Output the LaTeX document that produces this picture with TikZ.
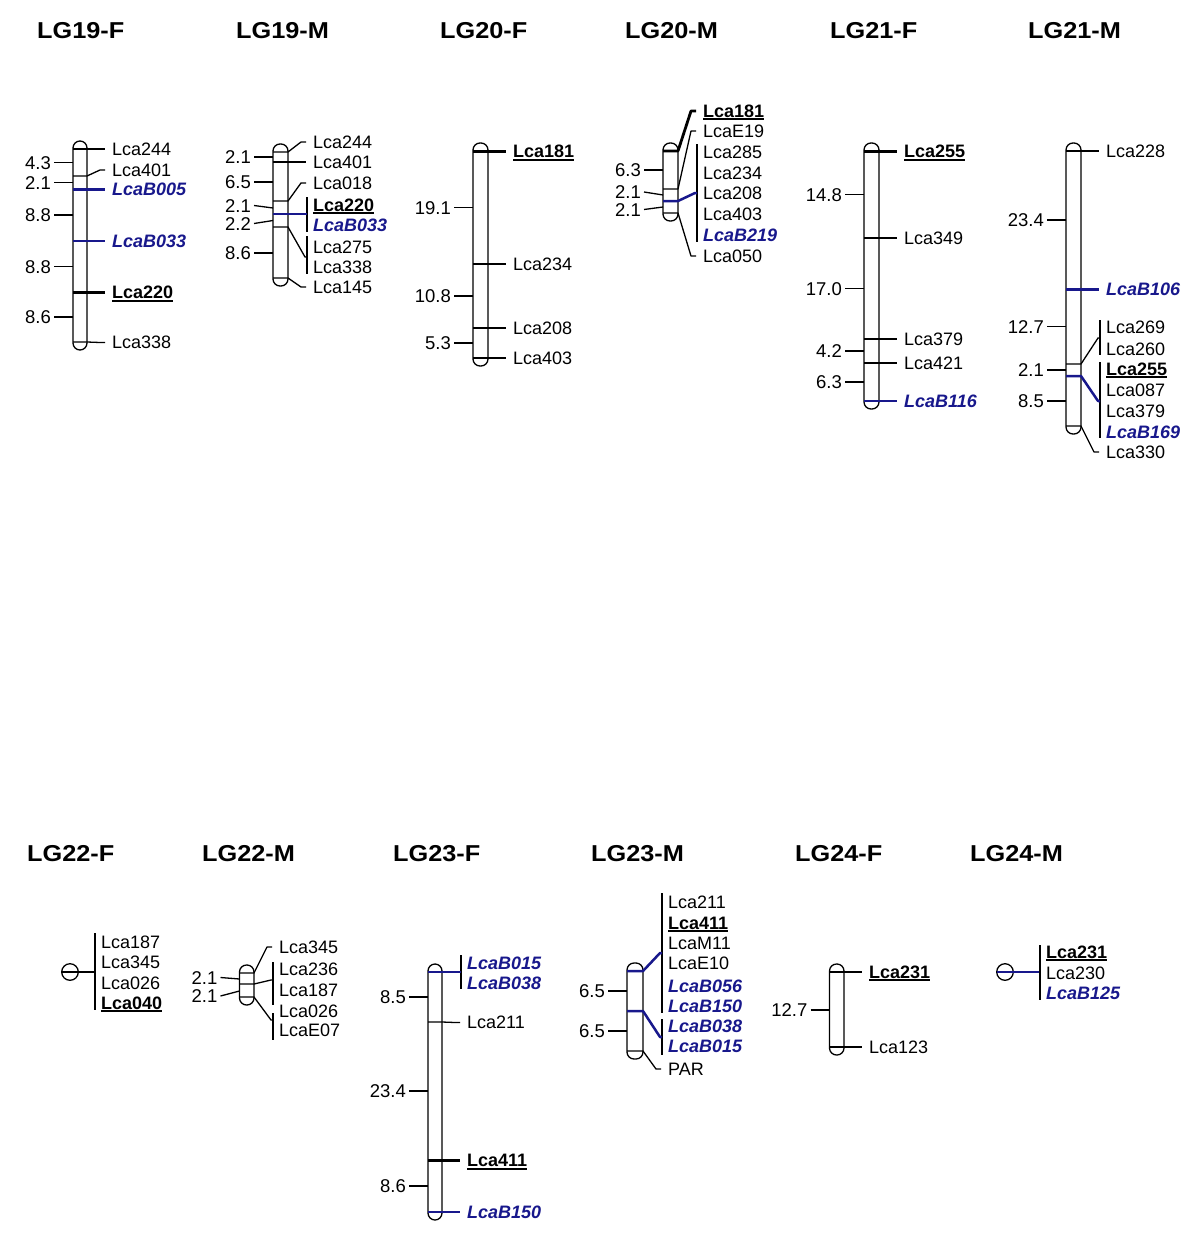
\documentclass[tikz,border=0pt]{standalone}
\usepackage{fontspec}
\setmainfont{Liberation Sans}
\newfontfamily\ttlfam[FakeStretch=1.1]{Liberation Sans}
\definecolor{mkblue}{RGB}{24,24,140}
\newsavebox\ulbox
\newcommand\myul[1]{\sbox\ulbox{#1}\rlap{\rule[-2.8pt]{\wd\ulbox}{1.8pt}}\usebox\ulbox}
\newcommand\fLab{\fontsize{18}{20}\selectfont}
\newcommand\fDist{\fontsize{18.5}{21}\selectfont}
\newcommand\fTtl{\ttlfam\bfseries\fontsize{23}{25}\selectfont}
\tikzset{
 chr/.style={draw=black, line width=1.3pt, fill=white, rounded corners=7pt},
 nmk/.style={draw=black, line width=1.3pt, line join=round},
 kmk/.style={draw=black, line width=2.8pt, line join=round},
 bmk/.style={draw=mkblue, line width=2.5pt, line join=round},
 lab/.style={anchor=west, inner sep=0pt, font=\fLab, text height=12.9pt, text depth=0pt},
 labb/.style={lab, font=\fLab\bfseries},
 labc/.style={lab, font=\fLab\bfseries\itshape, text=mkblue},
 dist/.style={anchor=east, inner sep=0pt, font=\fDist, text height=13.2pt, text depth=0pt},
 ttl/.style={anchor=west, inner sep=0pt, font=\fTtl, text height=16.5pt, text depth=0pt},
}
% single marker: #1 line style, #2 xl, #3 xr, #4 marker y, #5 label y, #6 label style, #7 name, #8 text
\newcommand\single[8]{%
 \node[#6] (#7) at (#3+25,#5) {#8};
 \draw[#1] (#2,#4) -- (#3,#4) -- (#3+13,#5) -- ([xshift=-7pt]#7.west);}
% group: #1 style, #2 xl, #3 xr, #4 marker y, #5 group centre y, #6 bar top, #7 bar bottom
\newcommand\grp[7]{%
 \draw[nmk] (#3+19,#6) -- (#3+19,#7);
 \draw[#1] (#2,#4) -- (#3,#4) -- (#3+17,#5) -- (#3+19,#5);}
% distance: #1 xl, #2 label y, #3 chromosome y, #4 text, #5 name
\newcommand\dtick[5]{%
 \node[dist] (#5) at (#1-22,#2) {#4};
 \draw[nmk] ([xshift=3pt]#5.east) -- (#1,#3);}
\begin{document}
\begin{tikzpicture}[x=1pt,y=-1pt]
\useasboundingbox[fill=white] (0,0) rectangle (1200,1236);
% titles
\node[ttl] (t1) at (37,30) {LG19-F};
\node[ttl] (t2) at (236,30) {LG19-M};
\node[ttl] (t3) at (440,30) {LG20-F};
\node[ttl] (t4) at (625,30) {LG20-M};
\node[ttl] (t5) at (830,30) {LG21-F};
\node[ttl] (t6) at (1028,30) {LG21-M};
\node[ttl] (t7) at (27,853) {LG22-F};
\node[ttl] (t8) at (202,853) {LG22-M};
\node[ttl] (t9) at (393,853) {LG23-F};
\node[ttl] (t10) at (591,853) {LG23-M};
\node[ttl] (t11) at (795,853) {LG24-F};
\node[ttl] (t12) at (970,853) {LG24-M};

% ---------- LG19-F
\draw[chr] (73,141) rectangle (87,350);
\single{nmk}{73}{87}{149}{149}{lab}{a1}{Lca244}
\single{nmk}{73}{87}{176}{170}{lab}{a2}{Lca401}
\single{bmk}{73}{87}{189.5}{189.5}{labc}{a3}{LcaB005}
\single{bmk}{73}{87}{241}{241}{labc}{a4}{LcaB033}
\single{kmk}{73}{87}{292.5}{292.5}{labb}{a5}{\myul{Lca220}}
\single{nmk}{73}{87}{342}{342.5}{lab}{a6}{Lca338}
\dtick{73}{162.5}{162.5}{4.3}{ad1}
\dtick{73}{182.5}{182.5}{2.1}{ad2}
\dtick{73}{215}{215}{8.8}{ad3}
\dtick{73}{266.5}{266.5}{8.8}{ad4}
\dtick{73}{317}{317}{8.6}{ad5}

% ---------- LG19-M
\draw[chr] (273,144) rectangle (288,286);
\single{nmk}{273}{288}{152}{142}{lab}{b1}{Lca244}
\single{nmk}{273}{288}{162}{162}{lab}{b2}{Lca401}
\single{nmk}{273}{288}{201}{183}{lab}{b3}{Lca018}
\grp{bmk}{273}{288}{214}{214}{197}{232}
\node[labb] (b4) at (313,205) {\myul{Lca220}};
\node[labc] (b5) at (313,225) {LcaB033};
\grp{nmk}{273}{288}{227}{257}{236}{274}
\node[lab] (b6) at (313,247) {Lca275};
\node[lab] (b7) at (313,267) {Lca338};
\single{nmk}{273}{288}{278}{287}{lab}{b8}{Lca145}
\dtick{273}{157}{157}{2.1}{bd1}
\dtick{273}{182}{182}{6.5}{bd2}
\dtick{273}{205.5}{208}{2.1}{bd3}
\dtick{273}{223.5}{220.5}{2.2}{bd4}
\dtick{273}{253}{253}{8.6}{bd5}

% ---------- LG20-F
\draw[chr] (473,143) rectangle (488,366);
\single{kmk}{473}{488}{151.5}{151.5}{labb}{c1}{\myul{Lca181}}
\single{nmk}{473}{488}{264}{264}{lab}{c2}{Lca234}
\single{nmk}{473}{488}{328}{328}{lab}{c3}{Lca208}
\single{nmk}{473}{488}{358}{358}{lab}{c4}{Lca403}
\dtick{473}{207.5}{207.5}{19.1}{cd1}
\dtick{473}{296}{296}{10.8}{cd2}
\dtick{473}{343}{343}{5.3}{cd3}

% ---------- LG20-M
\draw[chr] (663,143) rectangle (678,221);
\single{kmk}{663}{678}{151}{111}{labb}{d1}{\myul{Lca181}}
\single{nmk}{663}{678}{189}{131}{lab}{d2}{LcaE19}
\grp{bmk}{663}{678}{201}{193}{144}{242}
\node[lab] (d3) at (703,152) {Lca285};
\node[lab] (d4) at (703,173) {Lca234};
\node[lab] (d5) at (703,193) {Lca208};
\node[lab] (d6) at (703,214) {Lca403};
\node[labc] (d7) at (703,235) {LcaB219};
\single{nmk}{663}{678}{213}{256}{lab}{d8}{Lca050}
\dtick{663}{170}{170}{6.3}{dd1}
\dtick{663}{192}{195}{2.1}{dd2}
\dtick{663}{209.5}{207}{2.1}{dd3}

% ---------- LG21-F
\draw[chr] (864,143) rectangle (879,409);
\single{kmk}{864}{879}{151.5}{151.5}{labb}{e1}{\myul{Lca255}}
\single{nmk}{864}{879}{238}{238}{lab}{e2}{Lca349}
\single{nmk}{864}{879}{339}{339}{lab}{e3}{Lca379}
\single{nmk}{864}{879}{363}{363}{lab}{e4}{Lca421}
\single{bmk}{864}{879}{401}{401}{labc}{e5}{LcaB116}
\dtick{864}{194.5}{194.5}{14.8}{ed1}
\dtick{864}{288.5}{288.5}{17.0}{ed2}
\dtick{864}{351}{351}{4.2}{ed3}
\dtick{864}{382}{382}{6.3}{ed4}

% ---------- LG21-M
\draw[chr] (1066,143) rectangle (1081,434);
\single{nmk}{1066}{1081}{151}{151}{lab}{f1}{Lca228}
\single{bmk}{1066}{1081}{289.5}{289.5}{labc}{f2}{LcaB106}
\grp{nmk}{1066}{1081}{364}{338}{320}{355}
\node[lab] (f3) at (1106,327) {Lca269};
\node[lab] (f4) at (1106,349) {Lca260};
\grp{bmk}{1066}{1081}{376}{401}{362}{438}
\node[labb] (f5) at (1106,369) {\myul{Lca255}};
\node[lab] (f6) at (1106,390) {Lca087};
\node[lab] (f7) at (1106,411) {Lca379};
\node[labc] (f8) at (1106,432) {LcaB169};
\single{nmk}{1066}{1081}{426}{452}{lab}{f9}{Lca330}
\dtick{1066}{220}{220}{23.4}{fd1}
\dtick{1066}{326.5}{326.5}{12.7}{fd2}
\dtick{1066}{370}{370}{2.1}{fd3}
\dtick{1066}{401}{401}{8.5}{fd4}

% ---------- LG22-F
\draw[nmk] (70,972) circle[radius=8.3];
\coordinate (g0) at (95,972);
\draw[kmk] (61.7,972) -- (g0);
\draw[nmk] (95,933) -- (95,1010);
\node[lab] (g1) at (101,942) {Lca187};
\node[lab] (g2) at (101,962) {Lca345};
\node[lab] (g3) at (101,983) {Lca026};
\node[labb] (g4) at (101,1003) {\myul{Lca040}};

% ---------- LG22-M
\draw[chr] (239.5,965) rectangle (254,1005);
\single{nmk}{239.5}{254}{973}{947}{lab}{h1}{Lca345}
\grp{nmk}{239.5}{254}{984}{980}{962}{1005}
\node[lab] (h2) at (279,969) {Lca236};
\node[lab] (h3) at (279,990) {Lca187};
\grp{nmk}{239.5}{254}{997}{1020}{1013}{1040}
\node[lab] (h4) at (279,1011) {Lca026};
\node[lab] (h5) at (279,1030) {LcaE07};
\dtick{239.5}{977.5}{979}{2.1}{hd1}
\dtick{239.5}{996}{991}{2.1}{hd2}

% ---------- LG23-F
\draw[chr] (428,964) rectangle (442,1220);
\grp{bmk}{428}{442}{972}{972}{955}{989}
\node[labc] (i1) at (467,963) {LcaB015};
\node[labc] (i2) at (467,983) {LcaB038};
\single{nmk}{428}{442}{1022}{1022.5}{lab}{i3}{Lca211}
\single{kmk}{428}{442}{1160.5}{1160.5}{labb}{i4}{\myul{Lca411}}
\single{bmk}{428}{442}{1212}{1212}{labc}{i5}{LcaB150}
\dtick{428}{997}{997}{8.5}{id1}
\dtick{428}{1091}{1091}{23.4}{id2}
\dtick{428}{1186}{1186}{8.6}{id3}

% ---------- LG23-M
\draw[chr] (627,963) rectangle (643,1059);
\grp{bmk}{627}{643}{971}{953}{893}{1013}
\node[lab] (j1) at (668,902) {Lca211};
\node[labb] (j2) at (668,923) {\myul{Lca411}};
\node[lab] (j3) at (668,943) {LcaM11};
\node[lab] (j4) at (668,963) {LcaE10};
\node[labc] (j5) at (668,986) {LcaB056};
\node[labc] (j6) at (668,1006) {LcaB150};
\grp{bmk}{627}{643}{1011}{1037}{1019}{1055}
\node[labc] (j7) at (668,1026) {LcaB038};
\node[labc] (j8) at (668,1046) {LcaB015};
\single{nmk}{627}{643}{1051}{1069}{lab}{j9}{PAR}
\dtick{627}{991}{991}{6.5}{jd1}
\dtick{627}{1031}{1031}{6.5}{jd2}

% ---------- LG24-F
\draw[chr] (829.5,964) rectangle (844,1055);
\single{kmk}{829.5}{844}{972}{972}{labb}{k1}{\myul{Lca231}}
\single{nmk}{829.5}{844}{1047}{1047}{lab}{k2}{Lca123}
\dtick{829.5}{1010}{1010}{12.7}{kd1}

% ---------- LG24-M
\draw[nmk] (1005,972) circle[radius=8.3];
\coordinate (l0) at (1040,972);
\draw[bmk] (996.7,972) -- (l0);
\draw[nmk] (1040,945) -- (1040,1000);
\node[labb] (l1) at (1046,952) {\myul{Lca231}};
\node[lab] (l2) at (1046,973) {Lca230};
\node[labc] (l3) at (1046,993) {LcaB125};
\end{tikzpicture}
\end{document}
